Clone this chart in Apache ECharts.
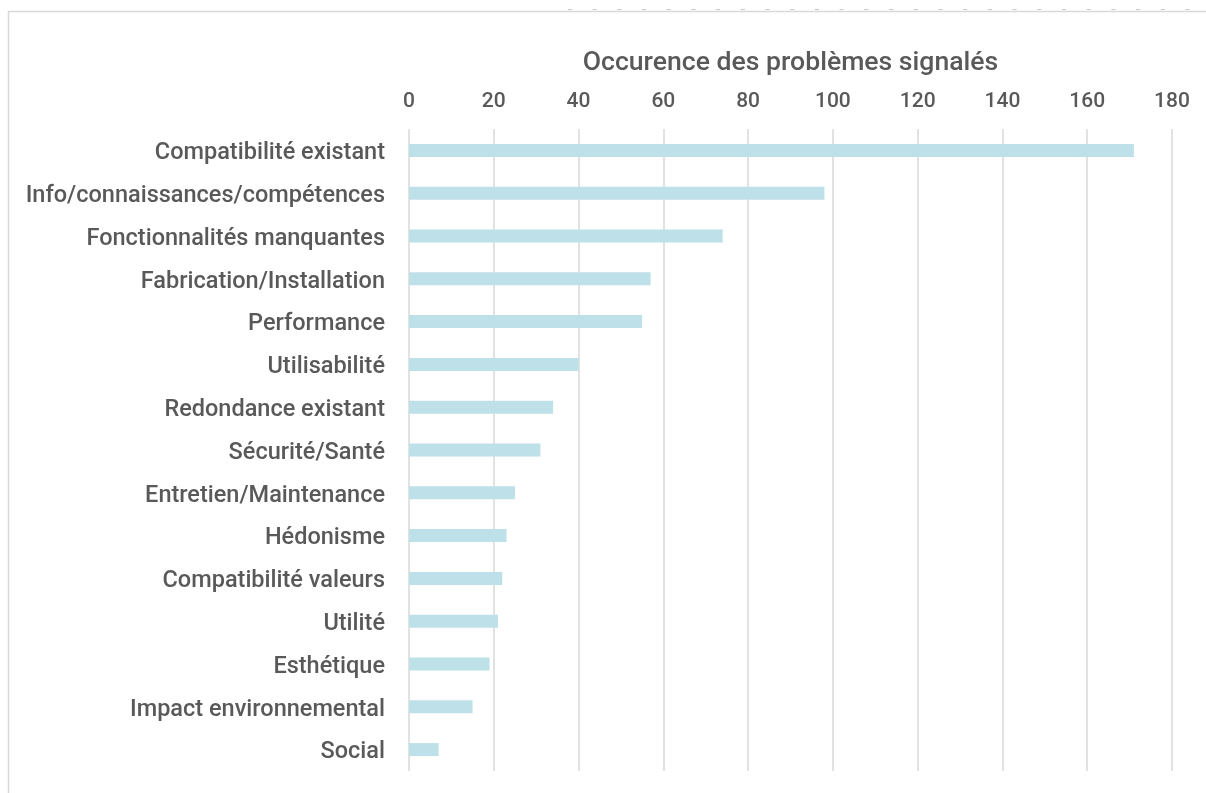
<!DOCTYPE html>
<html><head><meta charset="utf-8">
<script src="https://cdn.jsdelivr.net/npm/echarts@6/dist/echarts.min.js"></script>
<style>html,body{margin:0;padding:0;background:#fff}#c{width:1206px;height:793px}</style>
</head><body><div id="c"></div>
<script>
const categories = ["Compatibilité existant","Info/connaissances/compétences","Fonctionnalités manquantes","Fabrication/Installation","Performance","Utilisabilité","Redondance existant","Sécurité/Santé","Entretien/Maintenance","Hédonisme","Compatibilité valeurs","Utilité","Esthétique","Impact environnemental","Social"];
const values = [171,98,74,57,55,40,34,31,25,23,22,21,19,15,7];
const axisTitle = "Occurence des problèmes signalés";

const chart = echarts.init(document.getElementById('c'));
const font = "Roboto";
chart.setOption({
  animation:false,
  backgroundColor:'#fff',
  graphic:[
    {type:'rect',shape:{x:8.5,y:11.5,width:1300,height:900},style:{fill:'none',stroke:'#d9d9d9',lineWidth:1.5},silent:true},
    {type:'line',shape:{x1:568,y1:9.5,x2:1206,y2:9.5},style:{stroke:'#c8c8c8',lineWidth:1,lineDash:[4,20.7]},silent:true}
  ],
  grid:{left:409,right:34,top:129,bottom:22},
  xAxis:{type:'value',position:'top',min:0,max:180,interval:20,
    name:axisTitle,nameLocation:'middle',nameGap:52,
    nameTextStyle:{color:'#595959',fontSize:26.6,fontFamily:font,fontWeight:500},
    axisLabel:{color:'#595959',fontSize:21,fontFamily:font,fontWeight:500,margin:17},
    axisLine:{show:false},axisTick:{show:false},
    splitLine:{show:true,lineStyle:{color:'#d9d9d9',width:1.5}}},
  yAxis:{type:'category',data:categories,inverse:true,
    axisLine:{show:false},axisTick:{show:false},
    axisLabel:{margin:24,formatter:v=>'{a|'+v+'}',
      rich:{a:{color:'#595959',fontSize:23.5,fontFamily:font,fontWeight:500,padding:[6,0,0,0]}}}},
  series:[{type:'bar',data:values,barWidth:13,itemStyle:{color:'#bee0e8'}}]
});
</script></body></html>
